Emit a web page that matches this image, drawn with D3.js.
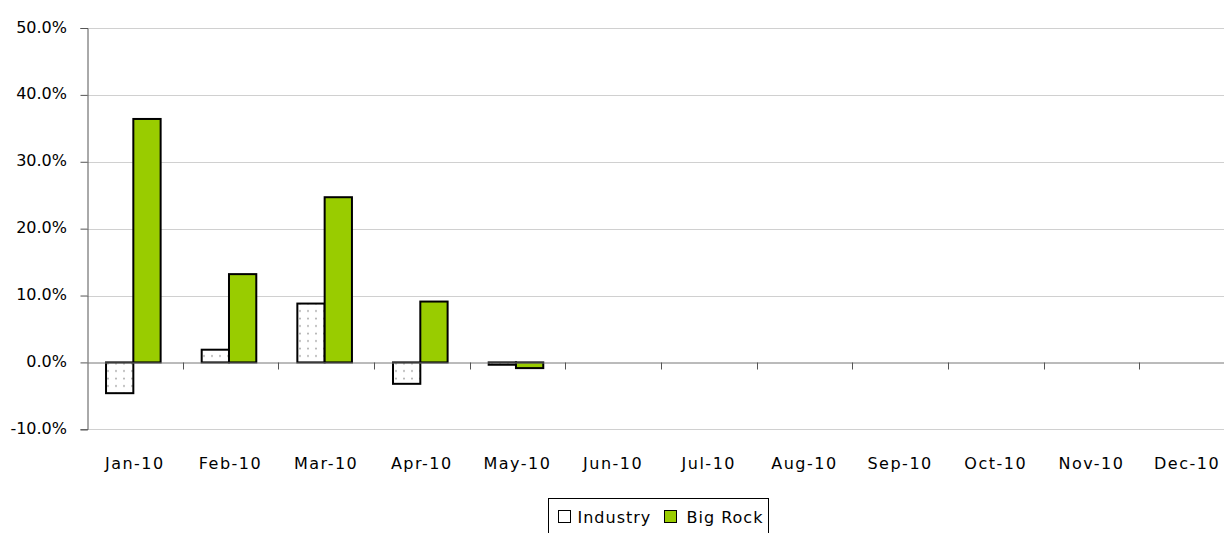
<!DOCTYPE html>
<html>
<head>
<meta charset="utf-8">
<script src="https://cdn.jsdelivr.net/npm/d3@7"></script>
<style>
  html, body { margin: 0; padding: 0; background: #ffffff; }
  svg { display: block; }
  text { font-family: "DejaVu Sans", Verdana, sans-serif; fill: #000; }
</style>
</head>
<body>
<div id="chart"></div>
<script>
// month labels on the category axis
var months = ['Jan-10', 'Feb-10', 'Mar-10', 'Apr-10', 'May-10', 'Jun-10',
              'Jul-10', 'Aug-10', 'Sep-10', 'Oct-10', 'Nov-10', 'Dec-10'];
// monthly change, in percent (null = no data yet)
var industry = [-4.6, 1.9, 8.8, -3.2, -0.35, null, null, null, null, null, null, null];
var bigRock = [36.4, 13.2, 24.7, 9.1, -0.85, null, null, null, null, null, null, null];
var seriesNames = ['Industry', 'Big Rock'];
var yTicks = [-10, 0, 10, 20, 30, 40, 50];

var width = 1224, height = 533;
var plotLeft = 87, plotTop = 28, plotBottom = 429.3;
var bandW = 95.66;
var plotRight = plotLeft + bandW * months.length; // plot runs past the window edge

var svg = d3.select('#chart').append('svg')
    .attr('width', width)
    .attr('height', height);

var defs = svg.append('defs');
var pat = defs.append('pattern')
    .attr('id', 'dots')
    .attr('patternUnits', 'userSpaceOnUse')
    .attr('width', 8)
    .attr('height', 7.5);
pat.append('rect').attr('width', 8).attr('height', 7.5).attr('fill', '#ffffff');
pat.append('circle').attr('cx', 4).attr('cy', 3.5).attr('r', 1).attr('fill', '#a8a8a8');

var x = d3.scaleBand().domain(months).range([plotLeft, plotRight]).paddingInner(0);
var y = d3.scaleLinear().domain([-10, 50]).range([plotBottom, plotTop]);

// gridlines
svg.append('g').selectAll('line')
    .data(yTicks.filter(function (d) { return d !== 0; }))
    .enter().append('line')
    .attr('x1', plotLeft).attr('x2', plotRight)
    .attr('y1', function (d) { return Math.round(y(d)) + 0.5; })
    .attr('y2', function (d) { return Math.round(y(d)) + 0.5; })
    .attr('stroke', '#d0d0d0')
    .attr('stroke-width', 1);

// y axis (line + ticks), labels drawn separately
var yAxis = d3.axisLeft(y)
    .tickValues(yTicks)
    .tickSize(7)
    .tickFormat('');
var ya = svg.append('g')
    .attr('transform', 'translate(' + (plotLeft + 0.5) + ',0)')
    .call(yAxis);
ya.select('.domain').attr('stroke', '#555555');
ya.selectAll('.tick line').attr('stroke', '#555555');

var pct = function (d) { return d3.format('.1f')(d).replace('\u2212', '-') + '%'; };
svg.append('g').selectAll('text')
    .data(yTicks)
    .enter().append('text')
    .attr('x', 67)
    .attr('y', function (d) { return y(d) + 4.5; })
    .attr('text-anchor', 'end')
    .style('font-size', '16px')
    .text(pct);

// bars
var inner = d3.scaleBand().domain(seriesNames).range([0, 54.6]);
var shift = (bandW - 54.6) / 2 - 1.5;
var series = [
    { name: 'Industry', values: industry, fill: 'url(#dots)' },
    { name: 'Big Rock', values: bigRock, fill: '#99cc00' }
];
series.forEach(function (s) {
    svg.append('g').selectAll('rect')
        .data(s.values.map(function (v, i) { return { m: months[i], v: v }; })
            .filter(function (d) { return d.v !== null; }))
        .enter().append('rect')
        .attr('x', function (d) { return x(d.m) + shift + inner(s.name); })
        .attr('width', inner.bandwidth())
        .attr('y', function (d) { return Math.min(y(d.v), y(0)); })
        .attr('height', function (d) { return Math.abs(y(d.v) - y(0)); })
        .attr('fill', s.fill)
        .attr('stroke', '#000000')
        .attr('stroke-width', 2);
});

// zero line with category ticks hanging below
var y0 = Math.round(y(0)) + 0.5;
var xAxis = d3.axisBottom(x).tickSize(0).tickFormat('');
var xa = svg.append('g')
    .attr('transform', 'translate(0,' + y0 + ')')
    .call(xAxis);
xa.select('.domain').attr('stroke', '#777777');
xa.selectAll('.tick').remove();
svg.append('g').selectAll('line')
    .data(months.slice(1))
    .enter().append('line')
    .attr('x1', function (d) { return Math.round(x(d)) + 0.5; })
    .attr('x2', function (d) { return Math.round(x(d)) + 0.5; })
    .attr('y1', y0).attr('y2', y0 + 7)
    .attr('stroke', '#555555');

// month labels along the bottom
svg.append('g').selectAll('text')
    .data(months)
    .enter().append('text')
    .attr('x', function (d) { return x(d) + bandW / 2; })
    .attr('y', 469)
    .attr('text-anchor', 'middle')
    .style('font-size', '16px')
    .style('letter-spacing', '1.5px')
    .text(function (d) { return d; });

// legend
var lg = svg.append('g').attr('transform', 'translate(548.5,498.5)');
lg.append('rect')
    .attr('width', 220).attr('height', 40)
    .attr('fill', '#ffffff').attr('stroke', '#000000');
var items = [
    { name: 'Industry', fill: '#ffffff', x: 10, tx: 29 },
    { name: 'Big Rock', fill: '#99cc00', x: 116, tx: 138 }
];
items.forEach(function (it) {
    lg.append('rect')
        .attr('x', it.x).attr('y', 12)
        .attr('width', 12).attr('height', 12)
        .attr('fill', it.fill).attr('stroke', '#000000');
    lg.append('text')
        .attr('x', it.tx).attr('y', 24)
        .style('font-size', '16px')
        .style('letter-spacing', '1px')
        .text(it.name);
});
</script>
</body>
</html>
